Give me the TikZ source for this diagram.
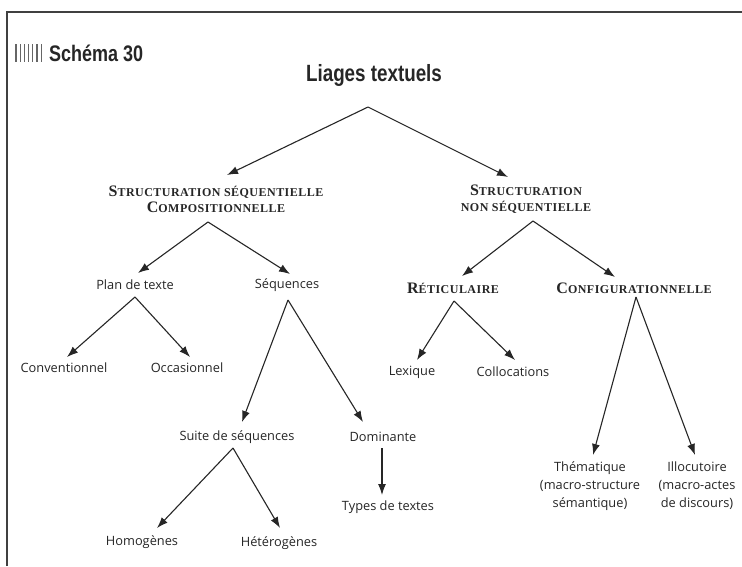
\documentclass[tikz,border=0pt]{standalone}
\usepackage{fontspec}
\usetikzlibrary{arrows.meta,calc}
\setmainfont{Open Sans}
\newfontfamily\headfont[FakeStretch=0.8]{Liberation Sans}
\newfontfamily\scfont[LetterSpace=4]{Liberation Serif}
\newcommand\capBig[1]{{\fontsize{16}{16}\selectfont #1}}
\newcommand\capSm[1]{{\fontsize{12}{16}\selectfont #1}}
\definecolor{ink}{HTML}{262626}
\tikzset{
  body/.style={font=\fontsize{12.8}{18}\selectfont, text=ink, inner sep=0pt, align=center},
  scap/.style={font=\scfont\bfseries\fontsize{12}{16}\selectfont, text=ink, inner sep=0pt, align=center},
  arr/.style={draw=ink, line width=1.1pt, -{Latex[length=11pt,width=8pt]}},
  frame/.style={draw=black!75, line width=1.4pt}
}
\begin{document}
\begin{tikzpicture}[x=1pt,y=-1pt]
\useasboundingbox (0,0) rectangle (742,566);
\fill[white] (0,0) rectangle (742,566);
% frame
\draw[frame] (7,566) -- (7,12) -- (742,12);
% bars
\foreach \i in {0,...,6} { \draw[black!60, line width=1.1pt] ({16+4.2*\i},44) -- ({16+4.2*\i},62); }
\node[font=\headfont\bfseries\fontsize{22.5}{22}\selectfont, text=ink, anchor=west, inner sep=0pt] (title) at (49,53) {Schéma 30};
% nodes
\node[font=\headfont\bfseries\fontsize{23.5}{22}\selectfont, text=ink, inner sep=0pt] (root) at (374,75) {Liages textuels};
\node[scap] (S1) at (216,199) {\capBig{S}\capSm{TRUCTURATION SÉQUENTIELLE}\\\capBig{C}\capSm{OMPOSITIONNELLE}};
\node[scap] (S2) at (526,199) {\capBig{S}\capSm{TRUCTURATION}\\\capSm{NON SÉQUENTIELLE}};
\node[body] (plan) at (135,285) {Plan de texte};
\node[body] (seq) at (287,285) {Séquences};
\node[body] (conv) at (64,368) {Conventionnel};
\node[body] (occ) at (187,368) {Occasionnel};
\node[body] (suite) at (237,437) {Suite de séquences};
\node[body] (dom) at (383,437) {Dominante};
\node[body] (homo) at (142,542) {Homogènes};
\node[body] (hetero) at (279,543) {Hétérogènes};
\node[body] (types) at (388,507) {Types de textes};
\node[scap] (ret) at (453,288) {\capBig{R}\capSm{ÉTICULAIRE}};
\node[scap] (conf) at (634,288) {\capBig{C}\capSm{ONFIGURATIONNELLE}};
\node[body] (lex) at (412,372) {Lexique};
\node[body] (coll) at (513,372) {Collocations};
\node[body] (them) at (590,486) {Thématique\\(macro-structure\\sémantique)};
\node[body] (illo) at (697,486) {Illocutoire\\(macro-actes\\de discours)};
% connectors
\draw[arr] ($(root)+(-6,32)$) -- ($(S1)+(11,-24)$);
\draw[arr] ($(root)+(-6,32)$) -- ($(S2)+(-18,-22)$);
\draw[arr] ($(S1)+(-8,23)$) -- ($(plan)+(3,-12)$);
\draw[arr] ($(S1)+(-8,23)$) -- ($(seq)+(3,-11)$);
\draw[arr] ($(plan)+(0,12)$) -- ($(conv)+(3,-11)$);
\draw[arr] ($(plan)+(0,12)$) -- ($(occ)+(3,-11)$);
\draw[arr] ($(seq)+(1,15)$) -- ($(suite)+(5,-15)$);
\draw[arr] ($(seq)+(1,15)$) -- ($(dom)+(-20,-15)$);
\draw[arr] ($(suite)+(-4,11)$) -- ($(homo)+(15,-14)$);
\draw[arr] ($(suite)+(-4,11)$) -- ($(hetero)+(1,-15)$);
\draw[arr] ($(dom)+(-1,11)$) -- ($(types)+(-6,-12)$);
\draw[arr] ($(S2)+(7,22)$) -- ($(ret)+(9,-12)$);
\draw[arr] ($(S2)+(7,22)$) -- ($(conf)+(-19,-11)$);
\draw[arr] ($(ret)+(1,13)$) -- ($(lex)+(5,-12)$);
\draw[arr] ($(ret)+(1,13)$) -- ($(coll)+(2,-12)$);
\draw[arr] ($(conf)+(2,9)$) -- ($(them)+(3,-31)$);
\draw[arr] ($(conf)+(2,9)$) -- ($(illo)+(-2,-31)$);
\end{tikzpicture}
\end{document}
